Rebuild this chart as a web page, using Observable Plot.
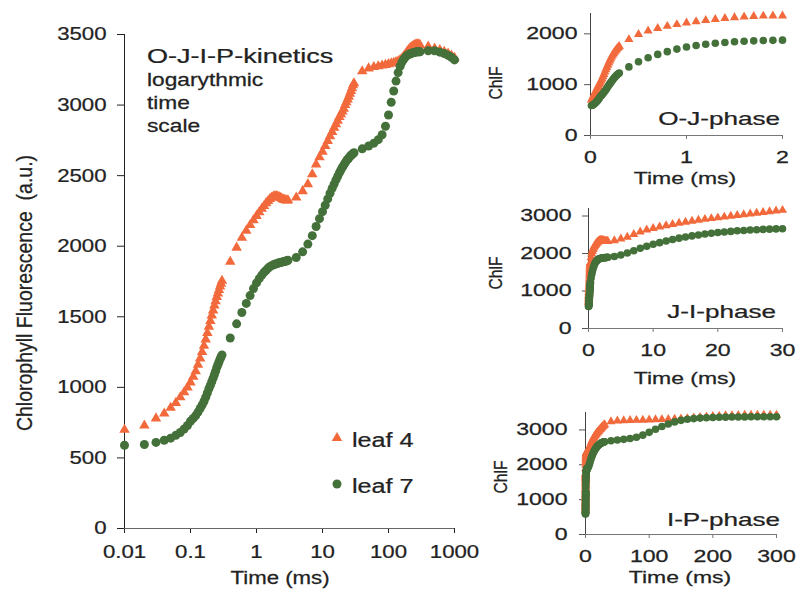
<!DOCTYPE html>
<html><head><meta charset="utf-8">
<script src="https://cdn.jsdelivr.net/npm/d3@7"></script>
<script src="https://cdn.jsdelivr.net/npm/@observablehq/plot@0.6"></script>
<style>
body{margin:0;background:#fff;}
#root{position:relative;width:796px;height:594px;overflow:hidden;background:#fff;}
#root svg{position:absolute;overflow:visible;}
#root text{stroke:currentColor;stroke-width:0.25px;}
</style></head><body><div id="root"></div>
<script>
// ---- data (time in ms, chlorophyll fluorescence in a.u.) ----
const time = [
  0.01,0.02,0.03,0.04,0.05,0.06,0.07,0.08,0.09,0.10,
  0.11,0.12,0.13,0.14,0.15,0.16,0.17,0.18,0.19,0.20,
  0.21,0.22,0.23,0.24,0.25,0.26,0.27,0.28,0.29,0.30,
  0.4,0.5,0.6,0.7,0.8,0.9,1.0,1.1,1.2,1.3,1.4,1.5,1.6,1.7,1.8,1.9,2.0,
  2.1,2.2,2.3,2.4,2.5,2.6,2.7,2.8,2.9,3.0,
  4,5,6,7,8,9,10,11,12,13,14,15,16,17,18,19,20,21,22,23,24,25,26,27,28,29,30,
  40,50,60,70,80,90,100,110,120,130,140,150,160,170,180,190,200,
  210,220,230,240,250,260,270,280,290,300,
  400,500,600,700,800,900,1000
];
const leaf4 = [
  700,730,780,815,855,890,930,965,1000,1035,
  1075,1115,1160,1205,1250,1295,1340,1385,1430,1470,
  1510,1545,1580,1610,1640,1665,1690,1715,1735,1755,
  1890,1990,2060,2110,2150,2185,2215,2240,2265,2285,2305,2320,2335,2345,2352,2355,2355,
  2352,2348,2343,2338,2333,2330,2327,2325,2324,2325,
  2345,2390,2440,2510,2580,2630,2670,2710,2745,2780,2810,2840,2865,2890,2915,2935,2955,2975,3000,3020,3040,3060,3080,3100,3120,3140,3155,
  3240,3260,3270,3275,3280,3285,3290,3295,3300,3305,3310,3320,3330,3345,3360,3375,3390,
  3400,3410,3415,3420,3425,3428,3430,3430,3428,3425,
  3415,3400,3390,3378,3365,3350,3335
];
const leaf7 = [
  590,595,610,625,640,660,680,705,730,760,
  780,800,825,850,875,900,930,960,990,1015,
  1040,1065,1090,1115,1140,1160,1180,1200,1215,1230,
  1350,1450,1530,1595,1650,1700,1740,1770,1795,1815,1830,1845,1855,1862,1868,1872,1876,
  1879,1882,1885,1887,1889,1891,1893,1895,1897,1900,
  1920,1960,2015,2075,2140,2195,2245,2290,2335,2375,2410,2440,2470,2495,2520,2540,2560,2575,2590,2605,2615,2625,2635,2643,2650,2656,2662,
  2690,2710,2730,2755,2790,2850,2930,3020,3100,3170,3230,3275,3305,3325,3340,3350,3357,
  3362,3366,3369,3372,3374,3376,3377,3378,3378,3378,
  3385,3385,3375,3365,3352,3338,3320
];
const seriesNames = ["leaf 4", "leaf 7"];
const mainXTicks = [0.01, 0.1, 1, 10, 100, 1000];
const mainYTicks = [0, 500, 1000, 1500, 2000, 2500, 3000, 3500];
const panelNames = ["O-J-phase", "J-I-phase", "I-P-phase"];
const panelXMax = [2, 30, 300];
const panelYMax = [2400, 3200, 3500];
const panelXTicks = [[0, 1, 2], [0, 10, 20, 30], [0, 100, 200, 300]];
const panelYTicks = [[0, 1000, 2000], [0, 1000, 2000, 3000], [0, 1000, 2000, 3000]];

const ORANGE = "#f26a3c", GREEN = "#44703a";
const FONT = "'Liberation Sans', Arial, Helvetica, sans-serif";
const TXT = "#222222";
const rows = time.map((t, i) => ({t, leaf4: leaf4[i], leaf7: leaf7[i]}));
const root = document.getElementById("root");

function stretch(svg, sx) {
  svg.querySelectorAll("text").forEach(el => {
    const tr = el.getAttribute("transform") || "";
    el.setAttribute("transform", (tr + ` scale(${sx},1)`).trim());
    const x = el.getAttribute("x");
    if (x && +x) el.setAttribute("x", +x / sx);
  });
}
function place(svg, left, top) {
  svg.style.left = left + "px";
  svg.style.top = top + "px";
  root.appendChild(svg);
}

// ---- main chart ----
const main = Plot.plot({
  width: 470, height: 594,
  marginLeft: 124, marginRight: 16, marginTop: 34, marginBottom: 66,
  style: {fontFamily: FONT, fontSize: "18.5px", color: TXT, background: "transparent"},
  x: {type: "log", domain: [0.01, 1000]},
  y: {domain: [0, 3500]},
  marks: [
    Plot.axisY({ticks: mainYTicks, tickSize: 7, tickPadding: 11, tickFormat: d => String(d), label: null}),
    Plot.axisX({ticks: mainXTicks, tickSize: 5, tickPadding: 11, tickFormat: d => String(d), label: null}),
    Plot.ruleY([0], {stroke: "#666"}),
    Plot.ruleX([0.01], {y1: 0, y2: 3500, stroke: "#222"}),
    Plot.dot(rows, {x: "t", y: "leaf4", symbol: "triangle", r: 3.9, fill: ORANGE}),
    Plot.dot(rows, {x: "t", y: "leaf7", symbol: "circle", r: 4.5, fill: GREEN})
  ]
});
stretch(main, 1.2);
place(main, 0, 0);

// ---- phase panels ----
const boxes = [
  {left: 480, top: 0, w: 316, h: 200, ml: 110, mr: 14, mt: 13, mb: 65, pad: 7},
  {left: 480, top: 190, w: 316, h: 200, ml: 108, mr: 14, mt: 18, mb: 62, pad: 11},
  {left: 480, top: 390, w: 316, h: 204, ml: 105, mr: 20, mt: 22, mb: 60, pad: 12}
];
boxes.forEach((b, k) => {
  const data = rows.filter(d => d.t <= panelXMax[k]);
  const p = Plot.plot({
    width: b.w, height: b.h,
    marginLeft: b.ml, marginRight: b.mr, marginTop: b.mt, marginBottom: b.mb,
    style: {fontFamily: FONT, fontSize: "16.5px", color: TXT, background: "transparent"},
    x: {domain: [0, panelXMax[k]]},
    y: {domain: [0, panelYMax[k]]},
    marks: [
      Plot.axisY({ticks: panelYTicks[k], tickSize: 6, tickPadding: b.pad, tickFormat: d => String(d), label: null, stroke: "#555"}),
      Plot.axisX({ticks: panelXTicks[k], tickSize: 4, tickPadding: 12, tickFormat: d => String(d), label: null, stroke: "#777"}),
      Plot.ruleY([0], {stroke: "#777"}),
      Plot.ruleX([0], {y1: 0, y2: panelYMax[k], stroke: "#444"}),
      Plot.dot(data, {x: "t", y: "leaf4", symbol: "triangle", r: 3.4, fill: ORANGE}),
      Plot.dot(data, {x: "t", y: "leaf7", symbol: "circle", r: 3.8, fill: GREEN})
    ]
  });
  stretch(p, 1.4);
  place(p, b.left, b.top);
});

// ---- annotation overlay (labels, legend) ----
const ns = "http://www.w3.org/2000/svg";
const ov = document.createElementNS(ns, "svg");
ov.setAttribute("width", 796); ov.setAttribute("height", 594);
ov.style.left = "0px"; ov.style.top = "0px";
ov.style.color = TXT;
ov.setAttribute("font-family", FONT);
ov.setAttribute("fill", TXT);
root.appendChild(ov);
function txt(s, x, y, size, sx, anchor = "start", rot = 0) {
  const t = document.createElementNS(ns, "text");
  t.textContent = s;
  t.setAttribute("font-size", size);
  t.setAttribute("text-anchor", anchor);
  t.setAttribute("xml:space", "preserve");
  t.style.whiteSpace = "pre";
  if (rot) t.setAttribute("dominant-baseline", "central");
  t.setAttribute("transform", `translate(${x},${y}) scale(${sx},1)` + (rot ? ` rotate(${rot})` : ""));
  ov.appendChild(t);
  return t;
}
txt("Chlorophyll Fluorescence  (a.u.)", 24, 293, 19.5, 1.1, "middle", -90);
txt("Time (ms)", 280, 584, 19, 1.17, "middle");
txt("O-J-I-P-kinetics", 147, 63, 20.5, 1.32);
txt("logarythmic", 147, 86, 17.5, 1.3);
txt("time", 147, 109, 17.5, 1.3);
txt("scale", 147, 132, 17.5, 1.3);
// legend
const tri = document.createElementNS(ns, "path");
tri.setAttribute("d", d3.symbol(d3.symbolTriangle, Math.PI * 3.9 * 3.9)());
tri.setAttribute("transform", "translate(337,438)");
tri.setAttribute("fill", ORANGE);
ov.appendChild(tri);
const cir = document.createElementNS(ns, "circle");
cir.setAttribute("cx", 337); cir.setAttribute("cy", 484); cir.setAttribute("r", 4.5);
cir.setAttribute("fill", GREEN);
ov.appendChild(cir);
txt(seriesNames[0], 352, 447, 21, 1.2);
txt(seriesNames[1], 352, 493, 21, 1.2);
// panel labels
const chlfPos = [[495, 83], [495, 273], [500, 477]];
const phasePos = [[780, 125], [776, 318], [780, 526]];
const timePos = [[685, 184], [685, 384], [680, 583]];
panelNames.forEach((n, k) => {
  txt("ChlF", chlfPos[k][0], chlfPos[k][1], 15.6, 1.2, "middle", -90);
  txt(n, phasePos[k][0], phasePos[k][1], 18, 1.45, "end");
  txt("Time (ms)", timePos[k][0], timePos[k][1], 17, 1.35, "middle");
});
</script>
</body></html>
